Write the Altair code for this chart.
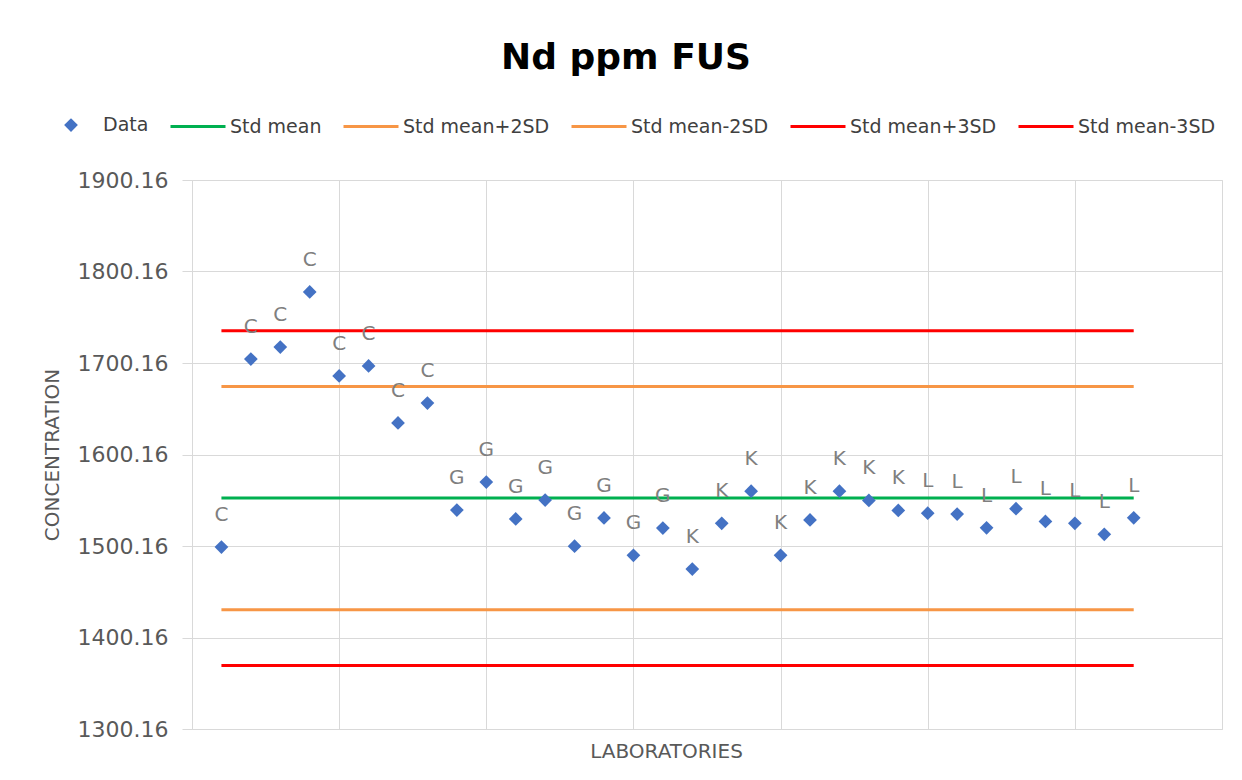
import altair as alt
import pandas as pd

# ---- data ----
labs = ["C"] * 8 + ["G"] * 8 + ["K"] * 8 + ["L"] * 8
conc = [1499, 1704.5, 1717.6, 1777.8, 1686, 1696.9, 1634.6, 1656.4,
        1539.5, 1570, 1529.7, 1550.4, 1500, 1530.8, 1490, 1519.8,
        1475, 1525, 1560, 1490, 1528.6, 1560, 1550, 1539,
        1536, 1535, 1520, 1541, 1527, 1525, 1513, 1531]
index = list(range(1, 33))

series_names = ["Data", "Std mean", "Std mean+2SD", "Std mean-2SD",
                "Std mean+3SD", "Std mean-3SD"]
series_fill = ["#4472C4", "#00B050", "#F79646", "#F79646", "#FF0000", "#FF0000"]
series_stroke = ["transparent", "#00B050", "#F79646", "#F79646", "#FF0000", "#FF0000"]
DIAMOND = "M-0.25,0L0,-0.25L0.25,0L0,0.25Z"
LINE = "M-1,0L1,0"
series_shapes = [DIAMOND, LINE, LINE, LINE, LINE, LINE]

ref_names = series_names[1:]
ref_values = [1552.5, 1674.5, 1430.5, 1735.5, 1369.5]
ref_start = [1] * 5
ref_end = [32] * 5

y_ticks = [1300.16, 1400.16, 1500.16, 1600.16, 1700.16, 1800.16, 1900.16]
x_grid = [0, 5, 10, 15, 20, 25, 30, 35]

pts = pd.DataFrame({"idx": index, "conc": conc, "lab": labs, "series": ["Data"] * 32})
refs = pd.DataFrame({"series": ref_names, "value": ref_values,
                     "x1": ref_start, "x2": ref_end})

FONT = "DejaVu Sans"
GREY = "#D9D9D9"
SYM = 3025

xscale = alt.Scale(domain=[0, 35], nice=False, zero=False)
yscale = alt.Scale(domain=[1300.16, 1900.16], nice=False, zero=False)
fill_scale = alt.Scale(domain=series_names, range=series_fill)
stroke_scale = alt.Scale(domain=series_names, range=series_stroke)
shape_scale = alt.Scale(domain=series_names, range=series_shapes)

legend_props = dict(
    title=None, orient="none", direction="horizontal", legendX=-150, legendY=-84,
    labelFont=FONT, labelFontSize=19, labelColor="#404040", columnPadding=15,
    labelOffset=3, symbolStrokeWidth=3, symbolSize=SYM, padding=0,
)

x_axis = alt.Axis(values=x_grid, labels=False, ticks=False, domain=False,
                  grid=True, gridColor=GREY, title="LABORATORIES",
                  titleFont=FONT, titleFontSize=20, titleFontWeight="normal",
                  titleColor="#595959", titlePadding=12, titleX=474)
y_axis = alt.Axis(values=y_ticks, format=".2f", grid=True, gridColor=GREY,
                  domain=False, tickColor=GREY, tickSize=10,
                  labelFont=FONT, labelFontSize=22, labelColor="#595959", labelPadding=14,
                  title="CONCENTRATION", titleFont=FONT, titleFontSize=20,
                  titleFontWeight="normal", titleColor="#595959", titlePadding=15)

points = alt.Chart(pts).mark_point(filled=True, opacity=1, strokeWidth=0, size=SYM).encode(
    x=alt.X("idx:Q", scale=xscale, axis=x_axis),
    y=alt.Y("conc:Q", scale=yscale, axis=y_axis),
    fill=alt.Fill("series:N", scale=fill_scale, legend=alt.Legend(**legend_props)),
    stroke=alt.Stroke("series:N", scale=stroke_scale, legend=alt.Legend(**legend_props)),
    shape=alt.Shape("series:N", scale=shape_scale, legend=alt.Legend(**legend_props)),
)

labels = alt.Chart(pts).mark_text(dy=-26, baseline="alphabetic", font=FONT,
                                  fontSize=20, color="#7F7F7F").encode(
    x=alt.X("idx:Q", scale=xscale),
    y=alt.Y("conc:Q", scale=yscale),
    text="lab:N",
)

rules = alt.Chart(refs).mark_rule(strokeWidth=3).encode(
    x=alt.X("x1:Q", scale=xscale),
    x2="x2:Q",
    y=alt.Y("value:Q", scale=yscale),
    stroke=alt.Stroke("series:N", scale=stroke_scale, legend=alt.Legend(**legend_props)),
)

chart = alt.layer(rules, points, labels).properties(
    width=1030, height=549,
    autosize=alt.AutoSizeParams(type="none"),
    padding={"left": 184, "top": 172, "right": 12, "bottom": 43},
    title=alt.Title("Nd ppm FUS", font=FONT, fontSize=36, fontWeight="bold",
                    color="#000000", anchor="middle", dx=-81, offset=19),
).configure_view(stroke=GREY, strokeWidth=2).configure(background="white")

chart.save("out.html", embed_options={"renderer": "svg", "actions": False})
